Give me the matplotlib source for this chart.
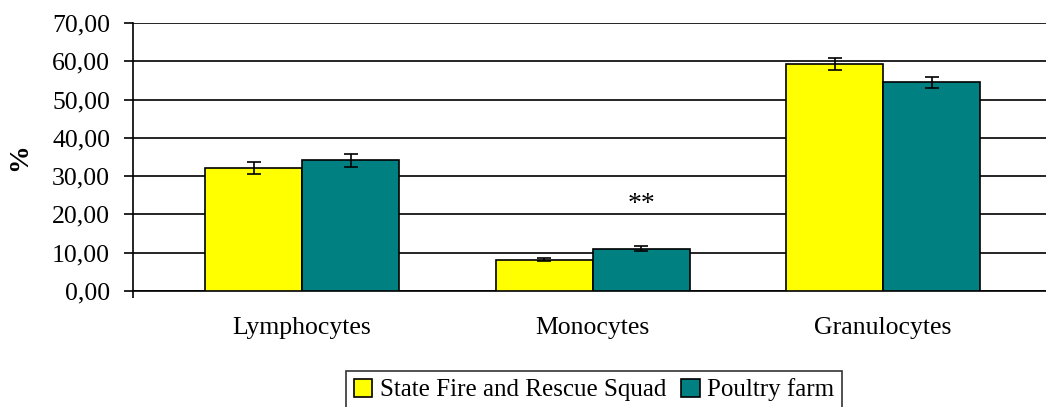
import numpy as np
import matplotlib.pyplot as plt
from matplotlib.ticker import FuncFormatter

plt.rcParams['font.family'] = ['Liberation Serif', 'DejaVu Serif']

categories = ['Lymphocytes', 'Monocytes', 'Granulocytes']
groups = ['State Fire and Rescue Squad', 'Poultry farm']
fire = [32.1, 8.2, 59.3]
fire_err = [1.6, 0.4, 1.5]
poultry = [34.2, 11.1, 54.5]
poultry_err = [1.7, 0.7, 1.5]
colors = ['#FFFF00', '#008080']

fs = 18.5

fig = plt.figure(figsize=(10.46, 4.07), dpi=100)
ax = fig.add_axes([133/1046, (407-291)/407, 1 - 133/1046, (291-23)/407])

x = np.arange(len(categories))
w = 0.334
ax.bar(x - w/2, fire, w, color=colors[0], edgecolor='black', linewidth=1.2,
       yerr=fire_err, capsize=5, error_kw=dict(elinewidth=1.2, capthick=1.2),
       label=groups[0], zorder=3)
ax.bar(x + w/2, poultry, w, color=colors[1], edgecolor='black', linewidth=1.2,
       yerr=poultry_err, capsize=5, error_kw=dict(elinewidth=1.2, capthick=1.2),
       label=groups[1], zorder=3)

ax.text(x[1] + w/2, 22.5, '**', ha='center', va='center', fontsize=20)

ax.set_xlim(-0.582, 2.561)
ax.set_ylim(0, 70)
ax.set_yticks(np.arange(0, 71, 10))
ax.yaxis.set_major_formatter(FuncFormatter(lambda v, p: f'{v:.2f}'.replace('.', ',')))
ax.yaxis.grid(True, color='black', linewidth=1.2, zorder=0)
ax.tick_params(axis='y', length=6.5, width=1.2, labelsize=fs, pad=10)

ax.set_xticks(x)
ax.set_xticklabels(categories)
ax.tick_params(axis='x', length=0, labelsize=fs, pad=19)
ax.set_xticks([-0.582], minor=True)
ax.tick_params(axis='x', which='minor', length=5, width=1.2)

for s in ['top', 'right']:
    ax.spines[s].set_visible(False)
for s in ['left', 'bottom']:
    ax.spines[s].set_linewidth(1.2)

ax.set_ylabel('%', fontsize=20, fontweight='bold')
ax.yaxis.set_label_coords(-0.110, 0.5)

leg = fig.legend(loc='upper center', bbox_to_anchor=(594/1046, 1 - 371/407), ncol=2,
                 fontsize=18, frameon=True, fancybox=False, edgecolor='black',
                 handlelength=0.75, handleheight=0.75, handletextpad=0.3,
                 columnspacing=0.6, borderpad=0.3, borderaxespad=0)
leg.get_frame().set_linewidth(1.2)

fig.savefig('out.png', dpi=100)
